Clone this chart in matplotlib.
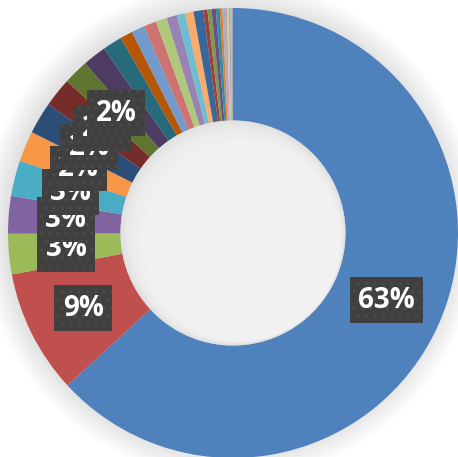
import numpy as np
import matplotlib.pyplot as plt
from matplotlib.patches import Circle

values = [63.2, 8.9, 2.9, 2.7, 2.55, 2.2, 2.3, 2.1, 1.8, 1.7,
          1.4, 0.9, 0.95, 0.9, 0.8, 0.75, 0.6, 0.6, 0.7, 0.3,
          0.3, 0.3, 0.28, 0.18, 0.18, 0.14, 0.14, 0.12, 0.08, 0.1]
colors = ['#4F81BD', '#C0504D', '#9BBB59', '#8064A2', '#4BACC6', '#F79646',
          '#2C4D75', '#772C2A', '#5F7530', '#4D3B62', '#276A7C', '#B65708',
          '#729ACA', '#CD7371', '#AFC97A', '#9983B5', '#6FBDD1', '#F9AB6B',
          '#3A6799', '#9C403D', '#7E9A48', '#684F87', '#3A8CA1', '#E97D1E',
          '#95B3D7', '#DA9694', '#C4D79B', '#B1A0C7', '#92CDDC', '#A6A6A6']
n_labeled = 9  # only the first slices carry a label in the original

total = sum(values)
labels = ['%d%%' % round(v / total * 100) for v in values[:n_labeled]]

fig = plt.figure(figsize=(4.58, 4.57), dpi=100)
ax = fig.add_axes([0, 0, 1, 1])

# soft glow behind the ring
for k in range(10):
    ax.add_patch(Circle((-0.012, 0.012), 1.0 + 0.012 * k, color='#000000',
                        alpha=0.012, lw=0, zorder=0))

wedges, _ = ax.pie(values, colors=colors, startangle=90, counterclock=False,
                   radius=1.0, wedgeprops=dict(width=0.5, linewidth=0))
for w in wedges:
    w.set_zorder(2)

# shaded hole: darker rim (inner shadow), lighter towards the middle
ax.add_patch(Circle((0, 0), 0.5, color='#dedede', lw=0, zorder=3))
for k in range(14):
    ax.add_patch(Circle((0.004 * k, -0.004 * k), 0.5 - 0.006 * k - 0.004,
                        color='#f6f6f6', alpha=0.2, lw=0, zorder=3))

# labels at the middle of each slice
angles = 90 - (np.cumsum(values) - np.array(values) / 2) / total * 360
for i in range(n_labeled):
    a = np.deg2rad(angles[i])
    ax.text(0.745 * np.cos(a), 0.745 * np.sin(a), labels[i],
            ha='center', va='center', color='white', fontsize=20,
            fontweight='bold', family=['Open Sans', 'DejaVu Sans'], zorder=5 + i,
            bbox=dict(boxstyle='square,pad=0.3', fc='#404040', ec='#4b4b4b',
                      lw=0, hatch='..'))

ax.set_xlim(-233 / 225, 225 / 225)
ax.set_ylim(-224 / 225, 233 / 225)
ax.set_aspect('auto')
ax.axis('off')

fig.savefig('out.png', dpi=100, facecolor='white')
